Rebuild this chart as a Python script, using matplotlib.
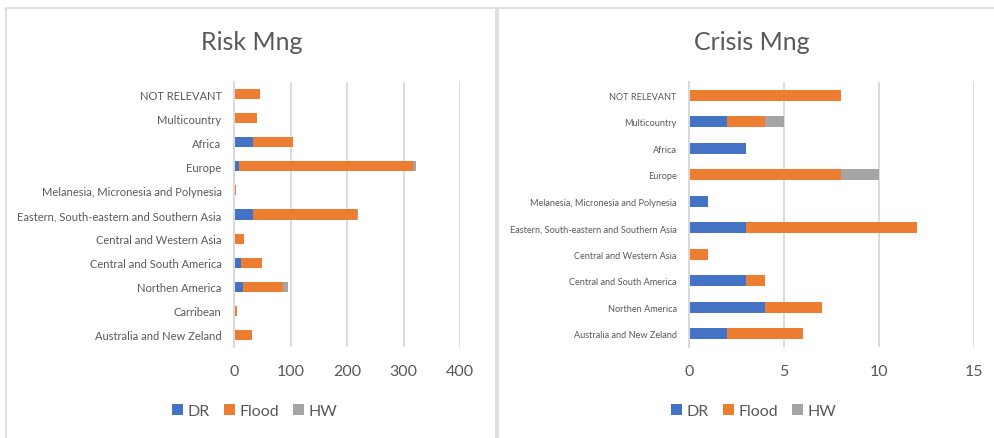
import numpy as np
import matplotlib
matplotlib.use('Agg')
import matplotlib.pyplot as plt
from matplotlib.patches import Rectangle, Patch

plt.rcParams['font.family'] = ['Lato', 'DejaVu Sans']

# Risk Mng data (top to bottom)
risk_regions = ['NOT RELEVANT', 'Multicountry', 'Africa', 'Europe',
                'Melanesia, Micronesia and Polynesia',
                'Eastern, South-eastern and Southern Asia',
                'Central and Western Asia', 'Central and South America',
                'Northen America', 'Carribean', 'Australia and New Zeland']
risk_dr = [0, 0, 34, 9, 0, 34, 0, 12, 16, 0, 0]
risk_flood = [46, 41, 71, 308, 4, 183, 18, 38, 71, 5, 31]
risk_hw = [0, 0, 0, 5, 0, 3, 0, 0, 8, 0, 0]
risk_ticks = [0, 100, 200, 300, 400]

# Crisis Mng data (top to bottom)
crisis_regions = ['NOT RELEVANT', 'Multicountry', 'Africa', 'Europe',
                  'Melanesia, Micronesia and Polynesia',
                  'Eastern, South-eastern and Southern Asia',
                  'Central and Western Asia', 'Central and South America',
                  'Northen America', 'Australia and New Zeland']
crisis_dr = [0, 2, 3, 0, 1, 3, 0, 3, 4, 2]
crisis_flood = [8, 2, 0, 8, 0, 9, 1, 1, 3, 4]
crisis_hw = [0, 1, 0, 2, 0, 0, 0, 0, 0, 0]
crisis_ticks = [0, 5, 10, 15]

series_names = ['DR', 'Flood', 'HW']
colors = ['#4472C4', '#ED7D31', '#A5A5A5']
grid_c = '#d9d9d9'
text_c = '#595959'

W, H = 994, 439
fig = plt.figure(figsize=(W / 100, H / 100), dpi=100)


def px_axes(x0, y0, x1, y1):
    return fig.add_axes([x0 / W, 1 - y1 / H, (x1 - x0) / W, (y1 - y0) / H])


def draw_panel(ax, regions, series, ticks, xmax, label_size, bar_h):
    y = np.arange(len(regions))
    left = np.zeros(len(regions))
    for vals, c in zip(series, colors):
        vals = np.array(vals, dtype=float)
        ax.barh(y, vals, left=left, height=bar_h, color=c, zorder=3)
        left += vals
    ax.set_ylim(len(regions) - 0.5, -0.5)
    ax.set_xlim(0, xmax)
    ax.set_yticks(y)
    ax.set_yticklabels(regions, fontsize=label_size, color=text_c)
    ax.set_xticks(ticks)
    ax.set_xticklabels([str(t) for t in ticks], fontsize=11.5, color=text_c)
    ax.tick_params(axis='both', length=0)
    ax.tick_params(axis='x', pad=12)
    ax.tick_params(axis='y', pad=9)
    ax.grid(axis='x', color=grid_c, lw=1.3, zorder=0)
    for s in ['top', 'right', 'bottom']:
        ax.spines[s].set_visible(False)
    ax.spines['left'].set_color(grid_c)
    ax.spines['left'].set_linewidth(1.5)
    ax.spines['left'].set_zorder(4)


# panel borders
fig.patches.append(Rectangle((5.5 / W, -0.05), 490 / W, 1.05 - 8.5 / H,
                             transform=fig.transFigure, fill=False,
                             edgecolor=grid_c, lw=1.2))
fig.patches.append(Rectangle((497.5 / W, -0.05), 0.6, 1.05 - 8.5 / H,
                             transform=fig.transFigure, fill=False,
                             edgecolor=grid_c, lw=1.2))

ax1 = px_axes(234, 83, 460, 348)
draw_panel(ax1, risk_regions, [risk_dr, risk_flood, risk_hw], risk_ticks,
           400, 8, 0.42)
ax2 = px_axes(689.3, 83, 974, 348)
draw_panel(ax2, crisis_regions, [crisis_dr, crisis_flood, crisis_hw],
           crisis_ticks, 15, 6.6, 0.4)

fig.text(252 / W, 1 - 42 / H, 'Risk Mng', ha='center', va='center',
         fontsize=18, color=text_c)
fig.text(752 / W, 1 - 42 / H, 'Crisis Mng', ha='center', va='center',
         fontsize=18, color=text_c)

handles = [Patch(facecolor=c, label=n) for c, n in zip(colors, series_names)]
for cx in [255, 754]:
    fig.legend(handles=handles, loc='center', ncol=3, frameon=False,
               bbox_to_anchor=(cx / W, 1 - 412 / H), fontsize=11.5,
               handlelength=0.65, handleheight=0.65, handletextpad=0.3,
               columnspacing=0.9, labelcolor=text_c)

fig.savefig('out.png', dpi=100)
